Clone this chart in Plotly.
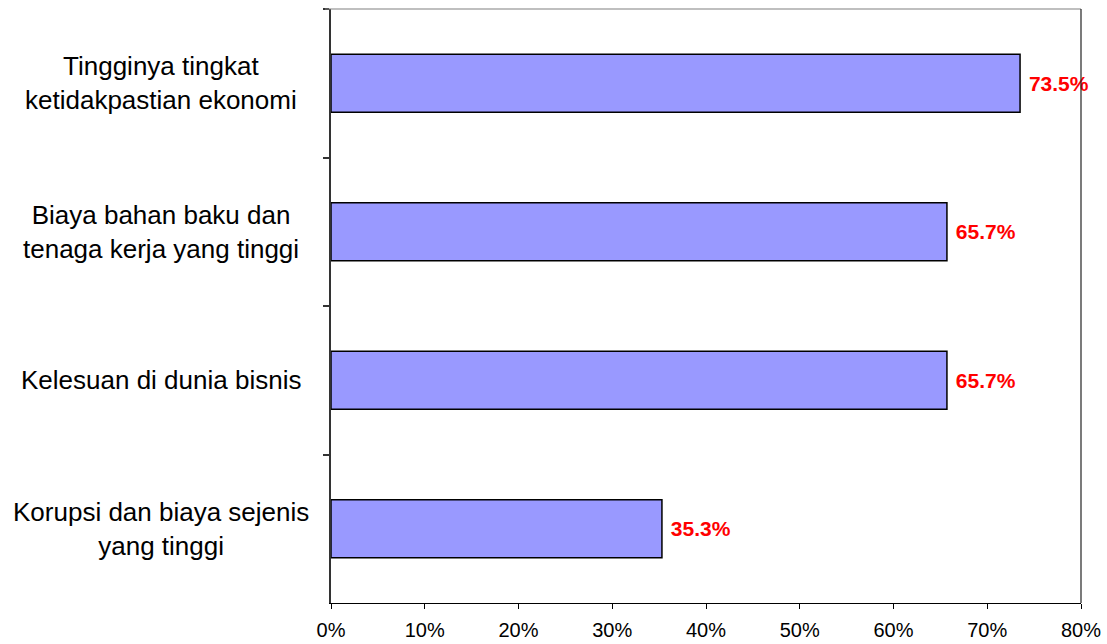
import plotly.graph_objects as go

categories = [
    "Tingginya tingkat<br>ketidakpastian ekonomi",
    "Biaya bahan baku dan<br>tenaga kerja yang tinggi",
    "Kelesuan di dunia bisnis",
    "Korupsi dan biaya sejenis<br>yang tinggi",
]
values = [73.5, 65.7, 65.7, 35.3]
x_ticks = [0, 10, 20, 30, 40, 50, 60, 70, 80]
x_ticktext = [f"{t}%" for t in x_ticks]

FONT = "Liberation Sans, Arial, sans-serif"
W, H = 1107, 644
ML, MR, MT, MB = 331, 26, 9, 41
PW = W - ML - MR

fig = go.Figure()
fig.add_trace(go.Bar(
    y=categories, x=values, orientation="h",
    marker=dict(color="#9999FF", line=dict(color="#000000", width=1.5)),
    texttemplate="\u00a0%{x:.1f}%", textposition="outside", cliponaxis=False, constraintext="none",
    textfont=dict(family=FONT, size=21, color="#FF0000", weight="bold"),
    width=0.39, hoverinfo="skip",
))

for c in categories:
    fig.add_annotation(
        xref="paper", yref="y", x=-170 / PW, y=c, text=c, showarrow=False,
        xanchor="center", yanchor="middle", align="center",
        font=dict(family=FONT, size=26, color="#000000"),
    )

# frame: top (gray) and right
fig.add_shape(type="line", xref="paper", yref="paper", x0=-6 / PW, x1=1, y0=1, y1=1,
              line=dict(color="#808080", width=1.2))
fig.add_shape(type="line", xref="paper", yref="paper", x0=1, x1=1, y0=0, y1=1,
              line=dict(color="#222222", width=1.2))

fig.update_layout(
    width=W, height=H,
    margin=dict(l=ML, r=MR, t=MT, b=MB, autoexpand=False),
    paper_bgcolor="white", plot_bgcolor="white",
    showlegend=False,
    font=dict(family=FONT, color="#000000"),
    xaxis=dict(
        range=[0, 80], tickvals=x_ticks, ticktext=x_ticktext,
        showgrid=False, zeroline=False, automargin=False,
        showline=True, linecolor="#000000", linewidth=1.2,
        ticks="outside", ticklen=5, tickcolor="#000000", tickwidth=1,
        tickfont=dict(family=FONT, size=20, color="#000000"),
        ticklabelstandoff=4,
    ),
    yaxis=dict(
        type="category", categoryorder="array", categoryarray=categories,
        range=[3.5, -0.5], automargin=False,
        showgrid=False, zeroline=False,
        showline=True, linecolor="#333333", linewidth=2,
        ticks="outside", tickson="boundaries", ticklen=6, tickcolor="#333333", tickwidth=1.5,
        showticklabels=False,
    ),
)

fig.write_html("out.html")
